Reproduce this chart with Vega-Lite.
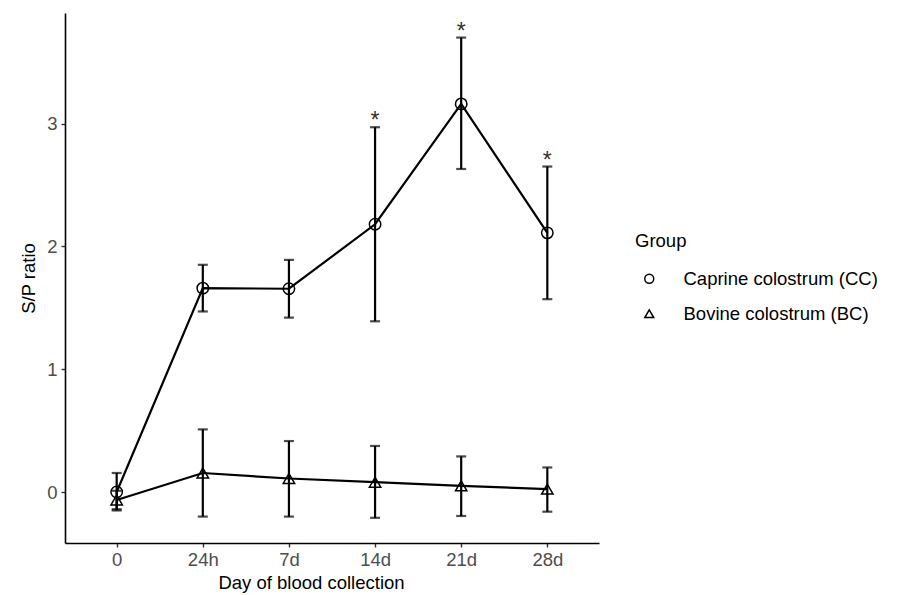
{
  "$schema": "https://vega.github.io/schema/vega-lite/v6.json",
  "width": 534,
  "height": 530,
  "autosize": {"type": "none"},
  "padding": {"left": 65, "top": 13, "right": 304, "bottom": 52},
  "background": "white",
  "config": {
    "view": {"stroke": null},
    "font": "Liberation Sans",
    "axis": {
      "grid": false,
      "domainColor": "black",
      "domainWidth": 1.6,
      "tickColor": "#333333",
      "tickWidth": 1.4,
      "tickSize": 4,
      "labelColor": "#4D4D4D",
      "labelFontSize": 18.5,
      "labelFont": "Liberation Sans",
      "titleFont": "Liberation Sans",
      "titleFontSize": 18.5,
      "titleFontWeight": "normal",
      "titleColor": "black"
    },
    "legend": {
      "titleFont": "Liberation Sans",
      "labelFont": "Liberation Sans",
      "titleFontSize": 18.5,
      "titleFontWeight": "normal",
      "labelFontSize": 18.5,
      "labelLimit": 400,
      "titleColor": "black",
      "labelColor": "black"
    }
  },
  "data": {
    "values": [
      {"group": "Caprine colostrum (CC)", "day": "0", "mean": 0.0, "lo": -0.15, "hi": 0.155, "sig": false},
      {"group": "Caprine colostrum (CC)", "day": "24h", "mean": 1.66, "lo": 1.47, "hi": 1.85, "sig": false},
      {"group": "Caprine colostrum (CC)", "day": "7d", "mean": 1.655, "lo": 1.42, "hi": 1.89, "sig": false},
      {"group": "Caprine colostrum (CC)", "day": "14d", "mean": 2.18, "lo": 1.39, "hi": 2.97, "sig": true},
      {"group": "Caprine colostrum (CC)", "day": "21d", "mean": 3.16, "lo": 2.63, "hi": 3.70, "sig": true},
      {"group": "Caprine colostrum (CC)", "day": "28d", "mean": 2.11, "lo": 1.57, "hi": 2.65, "sig": true},
      {"group": "Bovine colostrum (BC)", "day": "0", "mean": -0.065, "lo": -0.14, "hi": 0.01, "sig": false},
      {"group": "Bovine colostrum (BC)", "day": "24h", "mean": 0.155, "lo": -0.2, "hi": 0.51, "sig": false},
      {"group": "Bovine colostrum (BC)", "day": "7d", "mean": 0.11, "lo": -0.2, "hi": 0.415, "sig": false},
      {"group": "Bovine colostrum (BC)", "day": "14d", "mean": 0.08, "lo": -0.21, "hi": 0.375, "sig": false},
      {"group": "Bovine colostrum (BC)", "day": "21d", "mean": 0.05, "lo": -0.195, "hi": 0.29, "sig": false},
      {"group": "Bovine colostrum (BC)", "day": "28d", "mean": 0.024, "lo": -0.16, "hi": 0.2, "sig": false}
    ]
  },
  "encoding": {
    "x": {
      "field": "day",
      "type": "ordinal",
      "sort": ["0", "24h", "7d", "14d", "21d", "28d"],
      "scale": {"type": "point", "padding": 0.6},
      "axis": {"title": "Day of blood collection", "labelAngle": 0, "labelPadding": 3, "titlePadding": 5, "titleX": 246}
    }
  },
  "layer": [
    {
      "mark": {"type": "line", "color": "black", "strokeWidth": 2.2},
      "encoding": {
        "y": {
          "field": "mean",
          "type": "quantitative",
          "scale": {"domain": [-0.415, 3.9], "nice": false, "zero": false},
          "axis": {"title": "S/P ratio", "values": [0, 1, 2, 3], "format": "d", "labelPadding": 4, "titlePadding": 8}
        },
        "detail": {"field": "group"}
      }
    },
    {
      "mark": {"type": "rule", "color": "black", "strokeWidth": 2.2},
      "encoding": {
        "y": {"field": "lo", "type": "quantitative"},
        "y2": {"field": "hi"},
        "detail": {"field": "group"}
      }
    },
    {
      "mark": {"type": "tick", "color": "black", "thickness": 2.2, "size": 10, "orient": "horizontal"},
      "encoding": {
        "y": {"field": "lo", "type": "quantitative"},
        "detail": {"field": "group"}
      }
    },
    {
      "mark": {"type": "tick", "color": "black", "thickness": 2.2, "size": 10, "orient": "horizontal"},
      "encoding": {
        "y": {"field": "hi", "type": "quantitative"},
        "detail": {"field": "group"}
      }
    },
    {
      "mark": {"type": "point", "filled": false, "color": "black", "strokeWidth": 1.5, "size": 130, "opacity": 1},
      "encoding": {
        "y": {"field": "mean", "type": "quantitative"},
        "shape": {
          "field": "group",
          "type": "nominal",
          "scale": {"domain": ["Caprine colostrum (CC)", "Bovine colostrum (BC)"], "range": ["circle", "triangle-up"]},
          "legend": {
            "title": "Group",
            "orient": "none",
            "legendX": 570,
            "legendY": 219,
            "symbolSize": 80,
            "symbolStrokeWidth": 1.5,
            "symbolStrokeColor": "black",
            "symbolFillColor": "transparent",
            "symbolOffset": 5,
            "labelOffset": 25,
            "rowPadding": 16,
            "titlePadding": 19
          }
        }
      }
    },
    {
      "transform": [{"filter": "datum.sig"}],
      "mark": {"type": "text", "text": "*", "fontSize": 23, "color": "#333333", "baseline": "alphabetic", "dy": 1},
      "encoding": {
        "y": {"field": "hi", "type": "quantitative"}
      }
    }
  ]
}
